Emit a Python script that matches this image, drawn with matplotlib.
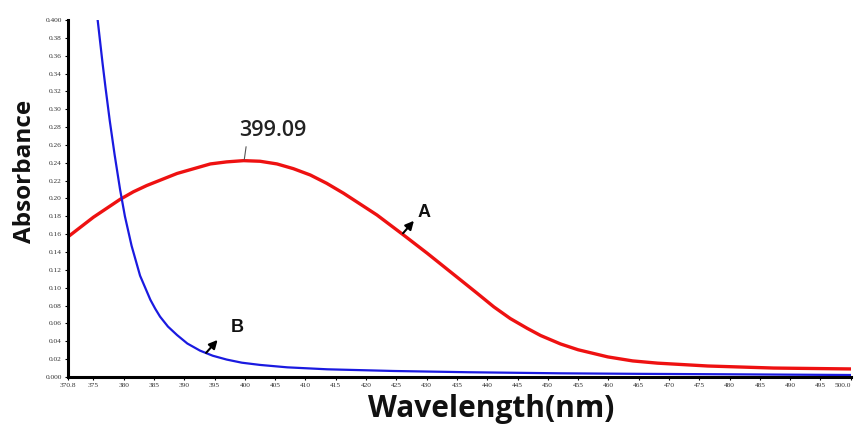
import numpy as np
import matplotlib.pyplot as plt

# absorbance spectra
wl_A = [370.8, 375.0, 379.4, 381.6, 383.8, 388.8, 394.3, 397.0, 399.8, 402.5, 405.3, 408.0,
        410.8, 413.5, 416.3, 421.8, 426.2, 430.1, 435.6, 438.3, 441.1, 443.8, 446.6, 448.8,
        452.1, 455.0, 459.9, 464.0, 468.1, 476.4, 487.3, 500.0]
abs_A = [0.157, 0.179, 0.199, 0.2075, 0.2145, 0.228, 0.2387, 0.241, 0.2424, 0.2417, 0.2387,
         0.2334, 0.2263, 0.217, 0.2058, 0.1815, 0.159, 0.1386, 0.1087, 0.094, 0.0785, 0.0655,
         0.0545, 0.0465, 0.037, 0.0305, 0.0225, 0.018, 0.0155, 0.0123, 0.010, 0.009]

wl_B = [375.7, 376.5, 377.0, 377.7, 378.5, 379.4, 380.2, 381.3, 382.7, 384.4, 385.2, 386.0,
        387.3, 388.8, 390.5, 392.6, 394.7, 397.0, 399.5, 402.5, 407.0, 413.6, 424.6, 437.0,
        452.1, 465.0, 480.0, 500.0]
abs_B = [0.400, 0.352, 0.324, 0.287, 0.249, 0.210, 0.180, 0.147, 0.1135, 0.0865, 0.0765,
         0.0676, 0.0565, 0.047, 0.0375, 0.0295, 0.0238, 0.0195, 0.016, 0.0135, 0.0108, 0.0086,
         0.0067, 0.0053, 0.0041, 0.0035, 0.003, 0.0022]

xticks = [370.8] + list(range(375, 501, 5))
xlabels = ['370.8'] + [str(v) for v in range(375, 500, 5)] + ['500.0']
yticks = np.arange(0, 0.401, 0.02)
ylabels = ['0.000'] + ['%.2f' % v for v in yticks[1:-1]] + ['0.400']

fig = plt.figure(figsize=(8.55, 4.25), dpi=100)
ax = fig.add_axes([0.0795, 0.113, 0.9155, 0.84])

ax.plot(wl_A, abs_A, color='#ee1111', lw=2.4, solid_capstyle='round', solid_joinstyle='round')
ax.plot(wl_B, abs_B, color='#1a1ae0', lw=1.6, solid_joinstyle='round')

ax.set_xlim(370.8, 500)
ax.set_ylim(0, 0.4)
ax.set_xticks(xticks)
ax.set_xticklabels(xlabels, fontsize=5.3, family='Liberation Serif', color='#333333')
ax.get_xticklabels()[-1].set_ha('right')
ax.set_yticks(yticks)
ax.set_yticklabels(ylabels, fontsize=5.3, family='Liberation Serif', color='#333333')
ax.tick_params(axis='both', length=2.5, width=0.8, pad=2)
ax.spines['top'].set_visible(False)
ax.spines['right'].set_visible(False)
ax.spines['left'].set_linewidth(2.2)
ax.spines['bottom'].set_linewidth(2.2)

# peak label with its leader line
ax.text(404.6, 0.2765, '399.09', ha='center', va='center', fontsize=15.5,
        family='Open Sans', fontweight='semibold', color='#222222')
ax.annotate('', xy=(399.9, 0.2435), xytext=(400.2, 0.258),
            arrowprops=dict(arrowstyle='-', color='#555555', lw=0.8, shrinkA=0, shrinkB=0))

# curve markers
for lbl, tail, head, pos in [('A', (426.1, 0.161), (427.9, 0.175), (429.6, 0.184)),
                             ('B', (393.6, 0.027), (395.5, 0.0415), (398.7, 0.055))]:
    ax.annotate('', xy=head, xytext=tail,
                arrowprops=dict(arrowstyle='-|>,head_length=0.5,head_width=0.25',
                                color='black', lw=1.5, shrinkA=0, shrinkB=0))
    ax.text(pos[0], pos[1], lbl, fontsize=13, family='Liberation Sans',
            fontweight='bold', color='#111111', ha='center', va='center')

fig.text(0.029, 0.596, 'Absorbance', rotation=90, ha='center', va='center',
         fontsize=17.5, family='Open Sans', fontweight='bold', color='#111111')
fig.text(0.574, 0.002, 'Wavelength(nm)', ha='center', va='bottom',
         fontsize=21.5, family='Open Sans', fontweight='bold', color='#111111')

fig.savefig('out.png', dpi=100)
